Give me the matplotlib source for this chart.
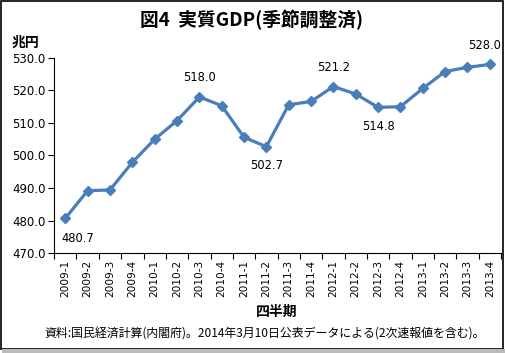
import matplotlib
matplotlib.use("Agg")
import matplotlib.pyplot as plt
from matplotlib.patches import Rectangle
from matplotlib.ticker import FixedLocator

plt.rcParams['font.family'] = ['DejaVu Sans', 'Noto Sans CJK JP']

quarters = ["2009-1", "2009-2", "2009-3", "2009-4",
            "2010-1", "2010-2", "2010-3", "2010-4",
            "2011-1", "2011-2", "2011-3", "2011-4",
            "2012-1", "2012-2", "2012-3", "2012-4",
            "2013-1", "2013-2", "2013-3", "2013-4"]
gdp = [480.7, 489.2, 489.4, 497.9,
       505.0, 510.7, 518.0, 515.3,
       505.6, 502.7, 515.6, 516.6,
       521.2, 518.9, 514.8, 515.0,
       520.6, 525.8, 527.1, 528.0]
# label placement: (dx, dy) offsets in points
labeled = {0: (9, -10), 6: (0, 9), 9: (0, -9), 12: (0, 9), 14: (0, -9), 19: (-4, 9)}
yticks = [470.0, 480.0, 490.0, 500.0, 510.0, 520.0, 530.0]

fig = plt.figure(figsize=(5.06, 3.53), dpi=100)
ax = fig.add_axes([0.107, 0.283, 0.883, 0.553])

x = list(range(len(quarters)))
color = '#4A7EBB'
ax.plot(x, gdp, color=color, lw=2.3, marker='D', markersize=5.5,
        markerfacecolor=color, markeredgecolor=color, zorder=3)

for i, (dx, dy) in labeled.items():
    ax.annotate(f"{gdp[i]:.1f}", (i, gdp[i]), xytext=(dx, dy), textcoords='offset points',
                ha='center', va='bottom' if dy > 0 else 'top', fontsize=8.3)

ax.set_xlim(-0.5, len(quarters) - 0.5)
ax.set_ylim(470, 530)
ax.set_yticks(yticks)
ax.set_yticklabels([f"{v:.1f}" for v in yticks], fontsize=8.5)
ax.set_xticks(x)
ax.set_xticklabels(quarters, rotation=90, fontsize=7.6)
ax.tick_params(axis='x', which='major', length=0, pad=5)
ax.xaxis.set_minor_locator(FixedLocator([i - 0.5 for i in range(len(quarters) + 1)]))
ax.tick_params(axis='x', which='minor', length=4, direction='out', width=0.8)
ax.tick_params(axis='y', length=4, direction='out', width=0.8, pad=2)
for s in ['top', 'right']:
    ax.spines[s].set_visible(False)
for s in ['left', 'bottom']:
    ax.spines[s].set_linewidth(0.8)

cjk = ['Noto Sans CJK JP', 'DejaVu Sans']
fig.text(0.497, 0.943, "図4  実質GDP(季節調整済)", ha='center', va='center', fontsize=13.5,
         fontweight='bold', family=cjk)
fig.text(0.022, 0.880, "兆円", ha='left', va='center', fontsize=10, fontweight='bold', family=cjk)
fig.text(0.547, 0.117, "四半期", ha='center', va='center', fontsize=10, fontweight='bold', family=cjk)
fig.text(0.088, 0.055, "資料:国民経済計算(内閣府)。2014年3月10日公表データによる(2次速報値を含む)。",
         ha='left', va='center', fontsize=8.6, family=cjk)

fig.patches.append(Rectangle((0.002, 0.012), 0.992, 0.984, transform=fig.transFigure,
                             fill=False, edgecolor='black', lw=1.2))
fig.patches.append(Rectangle((0.004, 0.0), 0.996, 0.012, transform=fig.transFigure,
                             facecolor='#bbbbbb', edgecolor='none'))

fig.savefig("out.png", dpi=100)
